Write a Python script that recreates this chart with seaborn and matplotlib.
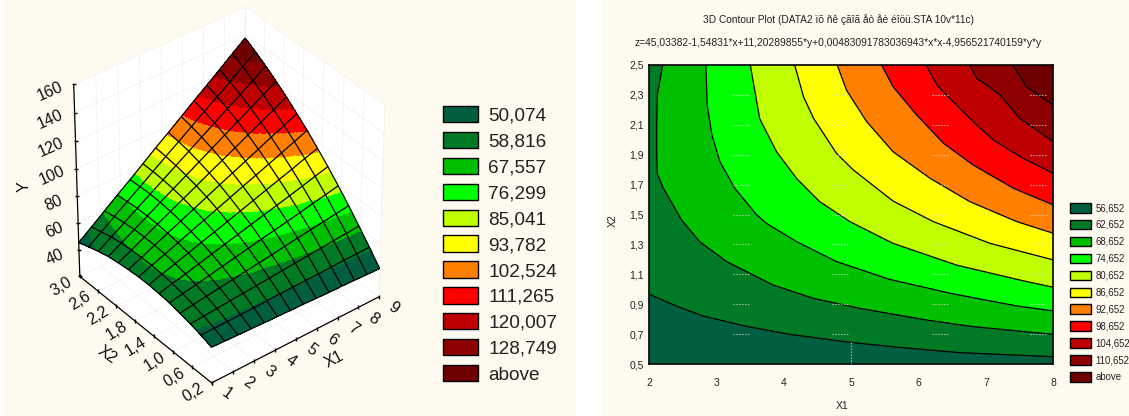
import numpy as np
import matplotlib
matplotlib.use('Agg')
import matplotlib.pyplot as plt
import matplotlib.tri as mtri
from matplotlib.colors import ListedColormap, BoundaryNorm
from matplotlib.patches import Patch, Rectangle
from mpl_toolkits.mplot3d import proj3d
import seaborn as sns

# Band colours, shared by both charts
band_colors = ['#005f40', '#007a25', '#00c000', '#00ff00', '#c0ff00', '#ffff00',
               '#ff8000', '#ff0000', '#c00000', '#8e0000', '#700000']
cream = '#fffaf0'

# Left chart: surface heights read at the tick positions
surf_x1 = [1, 2, 3, 4, 5, 6, 7, 8, 9]
surf_x2 = [0.2, 0.6, 1.0, 1.4, 1.8, 2.2, 2.6, 3.0]
surf_y_02 = [46.4, 45.7, 45.1, 44.4, 43.8, 43.2, 42.6, 42.0, 41.4]
surf_y_06 = [51.0, 52.1, 53.2, 54.3, 55.4, 56.5, 57.6, 58.8, 59.9]
surf_y_10 = [54.1, 56.9, 59.7, 62.6, 65.4, 68.3, 71.1, 74.0, 76.9]
surf_y_14 = [55.5, 60.1, 64.7, 69.2, 73.8, 78.4, 83.0, 87.6, 92.3]
surf_y_18 = [55.4, 61.7, 68.0, 74.3, 80.7, 87.0, 93.3, 99.7, 106.1]
surf_y_22 = [53.7, 61.7, 69.8, 77.9, 85.9, 94.0, 102.1, 110.2, 118.3]
surf_y_26 = [50.4, 60.2, 70.0, 79.8, 89.6, 99.4, 109.2, 119.0, 128.9]
surf_y_30 = [45.5, 57.0, 68.6, 80.1, 91.7, 103.2, 114.8, 126.3, 137.9]
surf_levels = [50.074, 58.816, 67.557, 76.299, 85.041, 93.782, 102.524, 111.265, 120.007, 128.749]
surf_labels = ['50,074', '58,816', '67,557', '76,299', '85,041', '93,782',
               '102,524', '111,265', '120,007', '128,749', 'above']
y_ticks_3d = [40, 60, 80, 100, 120, 140, 160]
x2_tick_labels_3d = ['0,2', '0,6', '1,0', '1,4', '1,8', '2,2', '2,6', '3,0']

# Right chart: contour lines
c56_x1 = [2.0, 2.4, 2.8, 3.42, 4.09, 4.98, 5.72, 6.61, 8.0]
c56_x2 = [0.966, 0.888, 0.821, 0.754, 0.698, 0.645, 0.611, 0.576, 0.549]
c62_x1 = [2.2, 2.12, 2.11, 2.11, 2.12, 2.21, 2.31, 2.48, 2.75, 3.15, 3.84, 4.44, 5.13, 6.12, 6.81, 8.0]
c62_x2 = [2.5, 2.3, 2.1, 1.905, 1.77, 1.675, 1.597, 1.463, 1.318, 1.185, 1.028, 0.939, 0.872, 0.794, 0.75, 0.698]
c68_x1 = [2.84, 2.86, 2.93, 3.05, 3.27, 3.59, 3.74, 4.19, 4.78, 5.57, 6.47, 7.46, 8.0]
c68_x2 = [2.5, 2.232, 2.032, 1.853, 1.675, 1.5, 1.44, 1.318, 1.185, 1.066, 0.973, 0.888, 0.855]
c74_x1 = [3.5, 3.57, 3.64, 3.89, 4.19, 4.53, 4.98, 5.62, 6.56, 7.5, 8.0]
c74_x2 = [2.5, 2.32, 2.14, 1.92, 1.74, 1.586, 1.452, 1.307, 1.162, 1.062, 1.013]
c80_x1 = [4.16, 4.29, 4.44, 4.78, 5.03, 5.62, 6.22, 7.06, 8.0]
c80_x2 = [2.5, 2.288, 2.143, 1.909, 1.798, 1.59, 1.452, 1.307, 1.196]
c86_x1 = [4.79, 4.93, 5.23, 5.62, 6.17, 6.76, 7.46, 8.0]
c86_x2 = [2.5, 2.33, 2.12, 1.92, 1.742, 1.586, 1.452, 1.374]
c92_x1 = [5.45, 5.62, 5.97, 6.37, 6.81, 7.41, 8.0]
c92_x2 = [2.5, 2.355, 2.166, 1.976, 1.831, 1.675, 1.564]
c98_x1 = [6.11, 6.27, 6.51, 6.81, 7.11, 7.55, 8.0]
c98_x2 = [2.5, 2.366, 2.255, 2.121, 1.998, 1.876, 1.775]
c104_x1 = [6.76, 6.86, 7.21, 7.5, 8.0]
c104_x2 = [2.5, 2.411, 2.3, 2.143, 1.987]
c110_x1 = [7.4, 7.6, 8.0]
c110_x2 = [2.5, 2.355, 2.232]
contour_labels = ['56,652', '62,652', '68,652', '74,652', '80,652', '86,652',
                  '92,652', '98,652', '104,652', '110,652', 'above']
x1_ticks = [2, 3, 4, 5, 6, 7, 8]
x2_ticks = [0.5, 0.7, 0.9, 1.1, 1.3, 1.5, 1.7, 1.9, 2.1, 2.3, 2.5]
x2_tick_labels = ['0,5', '0,7', '0,9', '1,1', '1,3', '1,5', '1,7', '1,9', '2,1', '2,3', '2,5']

title_1 = '3D Contour Plot (DATA2 ïõ ñê çãîã åò åè éîöü.STA 10v*11c)'
title_2 = 'z=45,03382-1,54831*x+11,20289855*y+0,00483091783036943*x*x-4,956521740159*y*y'

sns.set_theme(style='white')
plt.rcParams['font.family'] = ['Liberation Sans', 'DejaVu Sans']
palette = sns.color_palette(band_colors)

W, H = 1129, 416
fig = plt.figure(figsize=(W / 100, H / 100), dpi=100, facecolor='white')
fig.patches.append(Rectangle((4 / W, 0), 571 / W, 1, transform=fig.transFigure, color=cream, zorder=-5))
fig.patches.append(Rectangle((603 / W, 0), 526 / W, 1, transform=fig.transFigure, color=cream, zorder=-5))

# ---- left chart ----
ax3 = fig.add_axes([-14 / W, 10 / H, 0.42, 1.0], projection='3d', computed_zorder=False)
ax3.patch.set_alpha(0)
z_low = 20
ax3.set_xlim(1, 9)
ax3.set_ylim(0.2, 3.0)
ax3.set_zlim(z_low, 160)
ax3.set_box_aspect((1, 1, 1.11), zoom=0.91)
ax3.view_init(elev=37, azim=-128.7)
ax3.set_proj_type('persp', focal_length=1.6)

surf_z = np.array([surf_y_02, surf_y_06, surf_y_10, surf_y_14, surf_y_18, surf_y_22, surf_y_26, surf_y_30])
gx, gy = np.meshgrid(surf_x1, surf_x2)
tri = mtri.Triangulation(gx.ravel(), gy.ravel())
interp = mtri.CubicTriInterpolator(tri, surf_z.ravel(), kind='geom')


def sample(n):
    # resample the read table so that the bands and the mesh can be drawn on it
    sx, sy = np.meshgrid(np.linspace(1, 9, n), np.linspace(0.2, 3.0, n))
    return sx, sy, np.ma.filled(interp(sx, sy), np.nan)


cmap = ListedColormap(palette)
norm = BoundaryNorm([0] + surf_levels + [400], cmap.N)
fx, fy, fz = sample(240)
ax3.plot_surface(fx, fy, fz, cmap=cmap, norm=norm, rstride=1, cstride=1,
                 linewidth=0, antialiased=False, shade=False, zorder=1)
mx, my, mz = sample(14)
ax3.plot_wireframe(mx, my, mz, color='black', linewidth=0.9, zorder=2)

for axis in (ax3.xaxis, ax3.yaxis, ax3.zaxis):
    axis.set_pane_color('white')
    axis.pane.set_edgecolor('white')
    axis.line.set_color((0, 0, 0, 0))
    axis._axinfo['grid'].update(color='#dcdcdc', linestyle=':', linewidth=0.6)
    axis._axinfo['tick'].update(inward_factor=0, outward_factor=0)
ax3.set_xticks(surf_x1)
ax3.set_yticks(surf_x2)
ax3.set_zticks(y_ticks_3d)
ax3.set_xticklabels([])
ax3.set_yticklabels([])
ax3.set_zticklabels([])

# the three axis edges that carry labels
ax3.plot(surf_x1, [0.2] * len(surf_x1), [z_low] * len(surf_x1), color='black', lw=0.9, marker='|', ms=3, zorder=3)
ax3.plot([1] * len(surf_x2), surf_x2, [z_low] * len(surf_x2), color='black', lw=0.9, marker='|', ms=3, zorder=3)
ax3.plot([1] * 8, [3.0] * 8, [z_low] + y_ticks_3d, color='black', lw=0.9, marker='_', ms=3, zorder=3)

proj = ax3.get_proj()


def label3d(x, y, z, s, dx, dy, rot, size=11.5):
    # text sits a fixed number of pixels away from its projected axis position
    px, py, _ = proj3d.proj_transform(x, y, z, proj)
    ax3.annotate(s, xy=(px, py), xytext=(dx, dy), textcoords='offset pixels', rotation=rot,
                 fontsize=size, ha='center', va='center', color='#111111', annotation_clip=False)


for v in surf_x1:
    label3d(v, 0.2, z_low, str(v), 15, -11, -35)
for v, s in zip(surf_x2, x2_tick_labels_3d):
    label3d(1, v, z_low, s, -18, -10, 32)
for v in y_ticks_3d:
    label3d(1, 3.0, v, str(v), -24, -7, 24)
label3d(5.6, 0.2, z_low, 'X1', 25, -27, 28)
label3d(1, 1.5, z_low, 'X2', -42, -22, -35)
label3d(1, 3.0, 100, 'Y', -52, -18, 90)

handles = [Patch(facecolor=c, edgecolor='black', linewidth=1) for c in palette]
fig.legend(handles, surf_labels, loc='upper left', bbox_to_anchor=(443 / W, 1 - 106 / H), frameon=False,
           fontsize=13.7, borderpad=0, borderaxespad=0, handlelength=1.84, handleheight=0.95,
           handletextpad=0.53, labelspacing=0.375, labelcolor='#222222')

# ---- right chart ----
ax = fig.add_axes([649.3 / W, (H - 364) / H, 404 / W, 299 / H])
ax.set_facecolor(palette[0])
contours = [(c56_x1, c56_x2), (c62_x1, c62_x2), (c68_x1, c68_x2), (c74_x1, c74_x2), (c80_x1, c80_x2),
            (c86_x1, c86_x2), (c92_x1, c92_x2), (c98_x1, c98_x2), (c104_x1, c104_x2), (c110_x1, c110_x2)]
for i, (cx, cy) in enumerate(contours):
    # everything above a contour line takes the colour of the next band
    ax.fill(cx + [8, cx[0]], cy + [2.5, 2.5], color=palette[i + 1], linewidth=0, zorder=1)
for cx, cy in contours:
    sns.lineplot(x=cx, y=cy, sort=False, estimator=None, color='black', linewidth=0.9, ax=ax, zorder=2)

# broken dotted grid pieces that show through the fill
for v in x2_ticks[1:-1]:
    for start in (3.25, 4.72, 6.2, 7.65):
        ax.plot([start, start + 0.25], [v, v], color='#d8d8d8', lw=0.8, ls=':', zorder=3)
ax.plot([5, 5], [0.5, 0.65], color='#d8d8d8', lw=0.8, ls=':', zorder=3)

ax.set_xlim(2, 8)
ax.set_ylim(0.5, 2.5)
ax.set_xticks(x1_ticks)
ax.set_yticks(x2_ticks)
ax.set_yticklabels(x2_tick_labels)
ax.tick_params(axis='x', length=0, pad=10, labelsize=7.5, colors='#222222')
ax.tick_params(axis='y', length=0, pad=4, labelsize=7.5, colors='#222222')
ax.set_xlabel('X1', fontsize=7.5, color='#222222')
ax.set_ylabel('X2', fontsize=7.5, color='#222222')
ax.xaxis.set_label_coords(0.477, -0.125)
ax.yaxis.set_label_coords(-0.079, 0.48)
for s in ax.spines.values():
    s.set_color('black')
    s.set_linewidth(1.2)

fig.text(838 / W, 1 - 20 / H, title_1, fontsize=7.3, ha='center', va='center', color='#222222')
fig.text(838 / W, 1 - 43 / H, title_2, fontsize=7.4, ha='center', va='center', color='#222222')

handles = [Patch(facecolor=c, edgecolor='black', linewidth=1) for c in palette]
fig.legend(handles, contour_labels, loc='upper left', bbox_to_anchor=(1069.5 / W, 1 - 203 / H), frameon=False,
           fontsize=6.9, borderpad=0, borderaxespad=0, handlelength=2.2, handleheight=1.15,
           handletextpad=0.5, labelspacing=0.72, labelcolor='#222222')

fig.savefig('out.png', dpi=100, facecolor='white')
